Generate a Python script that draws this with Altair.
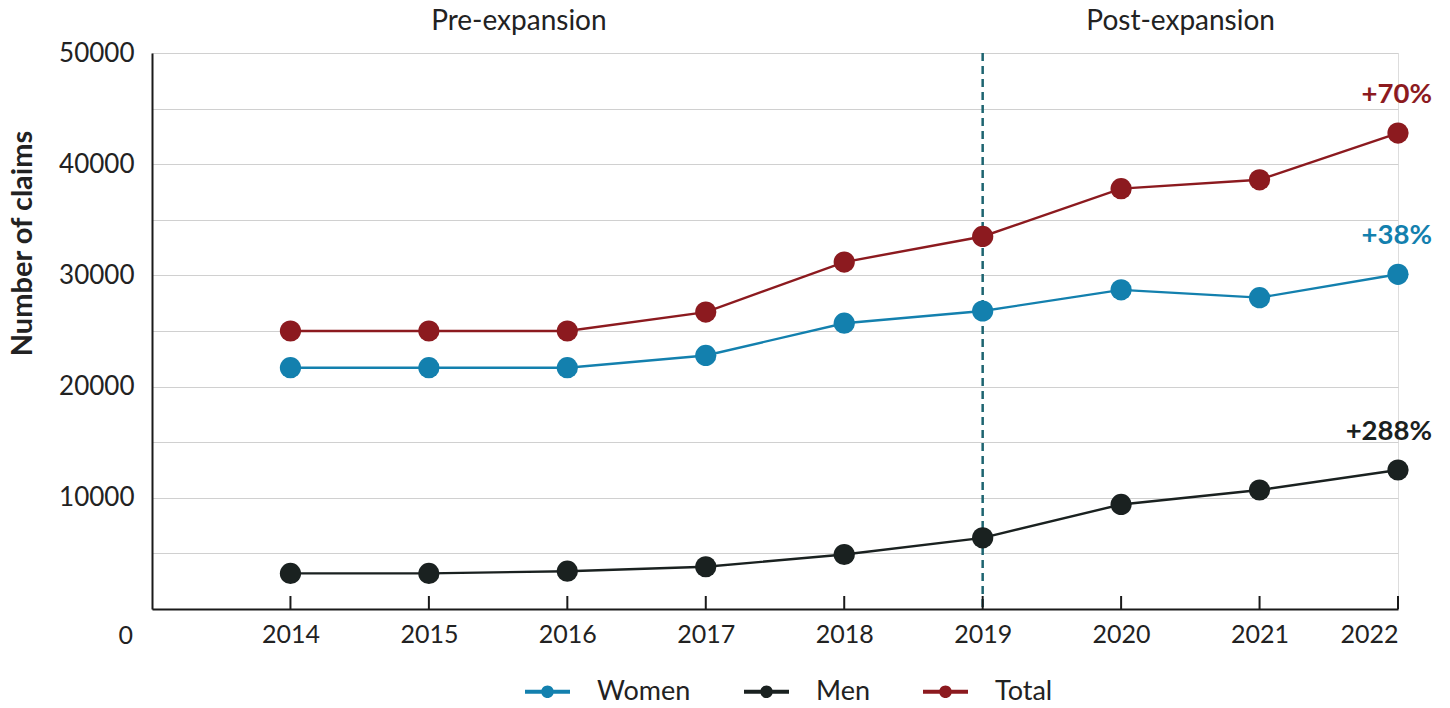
import altair as alt
import pandas as pd

years = [2014, 2015, 2016, 2017, 2018, 2019, 2020, 2021, 2022]
women = [21700, 21700, 21700, 22800, 25700, 26800, 28700, 28000, 30100]
men = [3200, 3200, 3400, 3800, 4900, 6400, 9400, 10700, 12500]
total = [25000, 25000, 25000, 26700, 31200, 33500, 37800, 38600, 42800]

series_names = ["Women", "Men", "Total"]
series_colors = ["#1380ae", "#1a2120", "#8c1a1f"]
change_labels = ["+38%", "+288%", "+70%"]

period_labels = ["Pre-expansion", "Post-expansion"]
period_centers = [2015.65, 2020.43]
policy_year = 2019

y_ticks = list(range(0, 50001, 5000))

W, H = 1246, 556
FONT = "Lato"
TEXT = "#222222"

rows = []
for name, vals in zip(series_names, [women, men, total]):
    for yr, v in zip(years, vals):
        rows.append({"year": yr, "claims": v, "series": name})
df = pd.DataFrame(rows)

ann = pd.DataFrame({
    "series": series_names,
    "year": [years[-1]] * 3,
    "claims": [women[-1], men[-1], total[-1]],
    "label": change_labels,
})

periods = pd.DataFrame({"c": period_centers, "t": period_labels})
zero_df = pd.DataFrame({"v": [0], "t": ["0"]})
tick_df = pd.DataFrame({"year": years})

xscale = alt.Scale(domain=[2013, 2022], nice=False, zero=False)
yscale = alt.Scale(domain=[0, 50000], nice=False)
cscale = alt.Scale(domain=series_names, range=series_colors)

legend_path = ("M-1,-0.09H1V0.09H-1Z "
               "M-0.28,0A0.28,0.28 0 1,1 0.28,0A0.28,0.28 0 1,1 -0.28,0Z")

base = alt.Chart(df)

x_enc = alt.X("year:Q", scale=xscale,
              axis=alt.Axis(values=years, format="d", title=None, grid=False,
                            ticks=False, labelPadding=13, labelFontSize=25,
                            labelColor=TEXT, domainColor="#1a1a1a", domainWidth=2,
                            labelFont=FONT))
y_enc = alt.Y("claims:Q", scale=yscale,
              axis=alt.Axis(values=y_ticks, format="d",
                            labelExpr="datum.value % 10000 == 0 && datum.value > 0 ? datum.label : ''",
                            title="Number of claims", titleFontSize=29, titleFontWeight="bold",
                            titleColor=TEXT, titleFont=FONT, titleX=-130, titleY=190,
                            titleAngle=270, titleBaseline="middle", titleAlign="center",
                            ticks=False, labelPadding=18, labelFontSize=26, labelColor=TEXT,
                            labelFont=FONT, grid=True, gridColor="#d0d0d0", gridWidth=1,
                            domainColor="#1a1a1a", domainWidth=2))

lines = base.mark_line(strokeWidth=2.4).encode(
    x=x_enc, y=y_enc,
    color=alt.Color("series:N", scale=cscale, legend=None),
    detail="series:N",
)

points = base.mark_point(filled=True, size=450, opacity=1).encode(
    x="year:Q", y="claims:Q",
    color=alt.Color("series:N", scale=cscale,
                    legend=alt.Legend(title=None, orient="none", direction="horizontal",
                                      legendX=373, legendY=616, symbolType=legend_path,
                                      symbolSize=2025, symbolStrokeWidth=0,
                                      labelFontSize=27, labelFont=FONT, labelColor=TEXT,
                                      labelOffset=27, columnPadding=53, symbolOpacity=1)),
)

rule = alt.Chart(pd.DataFrame({"year": [policy_year]})).mark_rule(
    strokeDash=[8, 5], strokeWidth=2.5, color="#1d6470"
).encode(x=alt.X("year:Q", scale=xscale))

ticks = alt.Chart(tick_df).mark_rule(strokeWidth=2, color="#1a1a1a").encode(
    x=alt.X("year:Q", scale=xscale), y=alt.value(H), y2=alt.value(H - 13)
)

ann_text = alt.Chart(ann).mark_text(
    align="right", baseline="middle", dx=34, dy=-38, fontSize=27.5,
    fontWeight="bold", font=FONT
).encode(
    x=alt.X("year:Q", scale=xscale), y=alt.Y("claims:Q", scale=yscale),
    text="label:N",
    color=alt.Color("series:N", scale=cscale, legend=None),
)

period_text = alt.Chart(periods).mark_text(
    align="center", baseline="middle", fontSize=28, font=FONT, color=TEXT
).encode(x=alt.X("c:Q", scale=xscale), y=alt.value(-31), text="t:N")

zero_text = alt.Chart(zero_df).mark_text(
    align="right", baseline="middle", dy=27, fontSize=25, font=FONT, color=TEXT
).encode(x=alt.value(-19), y=alt.Y("v:Q", scale=yscale), text="t:N")

chart = alt.layer(rule, lines, ticks, points, ann_text, period_text, zero_text).resolve_legend(
    color="independent"
).properties(
    width=W, height=H,
    autosize=alt.AutoSizeParams(type="none"),
    padding={"left": 152, "top": 53, "right": 52, "bottom": 99},
).configure_view(stroke=None).configure(font=FONT)

chart.save("out.html", embed_options={"renderer": "svg", "actions": False})
